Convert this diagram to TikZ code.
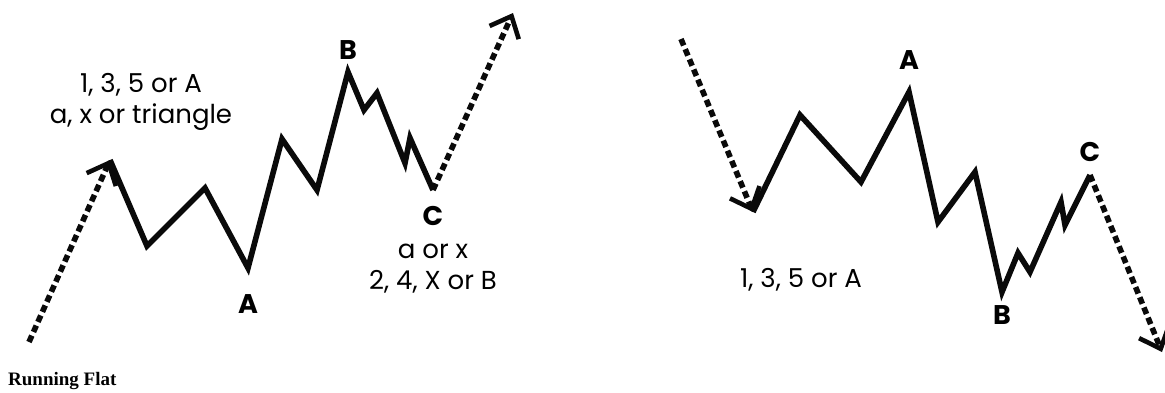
\documentclass[tikz,border=0pt]{standalone}
\usepackage{fontspec}
\setmainfont{Liberation Serif}
\setsansfont{Poppins}
\usetikzlibrary{arrows.meta, positioning}
\definecolor{ink}{RGB}{10, 10, 10}

\tikzset{
  wave/.style={ink, line width=5.6pt, line join=miter},
  trend/.style={ink, line width=5.6pt, dash pattern=on 7pt off 4pt,
    -{Straight Barb[length=18pt, width=32pt, line width=4.6pt]}},
  wavelbl/.style={font=\sffamily\bfseries\fontsize{27}{27}\selectfont, inner sep=0pt},
  notelbl/.style={font=\sffamily\fontsize{26}{31}\selectfont, align=center, inner sep=0pt}
}

\begin{document}
\begin{tikzpicture}[x=1pt, y=-1pt]
  \useasboundingbox[fill=white] (0,0) rectangle (1165,392);
  % Rising flat - the pivots
  \foreach \i/\x/\y in {0/110/160, 1/147/246, 2/205/188, 3/248/268, 4/282/139, 5/317/190,
                        6/348/72, 7/364/110, 8/377/93, 9/405/163, 10/410/138, 11/433/190}
    \coordinate (up\i) at (\x,\y);
  \coordinate (upin) at (29,342);
  \coordinate (upout) at (513,13);
  \draw[trend] (upin) -- (up0);
  \draw[wave] (up0) \foreach \i in {1,...,11} { -- (up\i) };
  \draw[trend] (up11) -- (upout);
  % Falling flat - the pivots
  \foreach \i/\x/\y in {0/753/212, 1/800/115, 2/861/182, 3/909/92, 4/938/222, 5/975/172,
                        6/1002/292, 7/1018/253, 8/1030/272, 9/1061/202, 10/1065/225, 11/1090/175}
    \coordinate (dn\i) at (\x,\y);
  \coordinate (dnin) at (681,39);
  \coordinate (dnout) at (1162,352);
  \draw[trend] (dnin) -- (dn0);
  \draw[wave] (dn0) \foreach \i in {1,...,11} { -- (dn\i) };
  \draw[trend] (dn11) -- (dnout);
  % Wave letters
  \node[wavelbl, above=12pt of up6] (upB) {B};
  \node[wavelbl, below=26pt of up3] (upA) {A};
  \node[wavelbl, below=16pt of up11] (upC) {C};
  \node[wavelbl, above=22pt of dn3] (dnA) {A};
  \node[wavelbl, above=13pt of dn11] (dnC) {C};
  \node[wavelbl, below=13pt of dn6] (dnB) {B};
  % Notes
  \node[notelbl] (upnote) at (141,102) {1, 3, 5 or A\\a, x or triangle};
  \node[notelbl, below=18pt of upC] (cnote) {a or x\\2, 4, X or B};
  \node[notelbl] (dnnote) at (801,280) {1, 3, 5 or A};
  % Caption
  \node[font=\bfseries\fontsize{19}{19}\selectfont, anchor=base west, inner sep=0pt]
    (caption) at (8,385) {Running Flat};
\end{tikzpicture}
\end{document}
